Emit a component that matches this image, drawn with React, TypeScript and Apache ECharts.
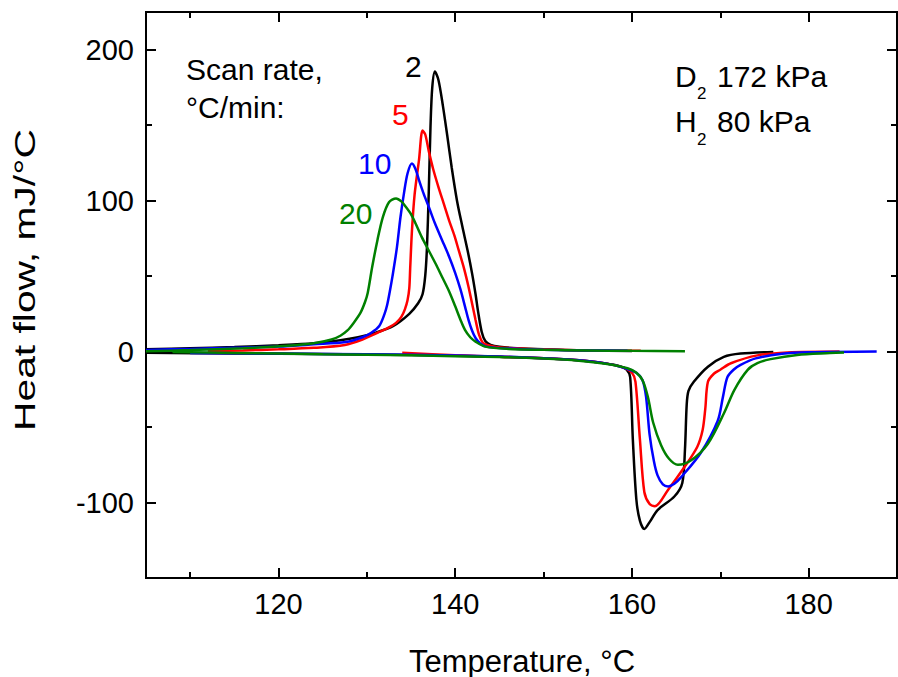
import React, { useEffect, useRef } from "react";
import * as echarts from "echarts";

// Temperature (°C) ticks
const xMajorTicks = [120, 140, 160, 180];
const xMinorTicks = [110, 130, 150, 170];
const yMajorTicks = [-100, 0, 100, 200];
const yMinorTicks = [-50, 50, 150];

const scanRates = ["2", "5", "10", "20"];
const colors = ["#000000", "#ff0000", "#0000ff", "#008000"];

// Absorption branches (positive peaks): [temperature, heat flow]
const rate2Absorption = [
  [105, 1.5], [110, 2.2], [115, 3.0], [120, 4.2], [124, 5.5], [127, 7.5], [129, 9.5], [131, 12.5],
  [133, 17], [134.8, 25], [135.8, 32], [136.3, 38], [136.6, 50], [136.8, 69], [137.0, 105],
  [137.2, 149], [137.4, 175], [137.7, 185.5], [138.1, 180], [138.6, 163], [139.1, 143],
  [139.6, 122], [140.2, 100], [140.8, 83], [141.4, 67], [141.9, 52], [142.3, 38], [142.6, 26],
  [143.0, 13], [143.4, 7], [144, 4.5], [145, 3.2], [147, 2.2], [150, 1.5], [155, 0.8], [160, 0.4],
];
const rate5Absorption = [
  [112, 0.3], [116, 0.8], [120, 1.5], [124, 2.5], [127.5, 4.4], [129.5, 8], [131.4, 13],
  [132.5, 16], [133.3, 19], [133.9, 23], [134.3, 28], [134.6, 34], [134.8, 42], [134.9, 55],
  [135.1, 80], [135.4, 104], [135.9, 127], [136.3, 146.5], [136.6, 144], [137.0, 133],
  [137.5, 121], [138.1, 109], [138.7, 98], [139.3, 87], [139.9, 77], [140.4, 67], [141, 55],
  [141.5, 43], [141.9, 32], [142.3, 21], [142.7, 11], [143.1, 6], [143.6, 4.4], [145, 2.8],
  [150, 1.5], [155, 0.8], [161, 0.5],
];
const rate10Absorption = [
  [105, 1.1], [110, 1.8], [115, 2.5], [120, 3.3], [124, 4.8], [127.6, 6.3], [129.5, 9.5],
  [130.5, 12.5], [131.4, 17], [132, 25], [132.3, 31], [132.6, 40], [132.9, 50], [133.4, 69],
  [133.8, 89], [134.2, 105], [134.6, 118], [135.1, 124.6], [135.5, 121], [135.9, 113.6],
  [136.4, 105], [137, 96], [137.7, 85], [138.5, 74], [139.3, 63], [140, 52], [140.6, 41],
  [141.1, 30], [141.5, 21], [141.9, 14], [142.3, 9], [142.8, 5.5], [143.5, 3.3], [146, 2],
  [150, 1.2], [155, 0.8], [159.5, 0.5],
];
const rate20Absorption = [
  [105, 0.2], [110, 1.0], [116, 2.2], [121, 3.8], [124, 5.5], [126, 8], [127, 10.5],
  [127.8, 14], [128.5, 19], [129.3, 26], [129.8, 33], [130.1, 39], [130.6, 56], [131.2, 74],
  [131.8, 89], [132.5, 99], [133.3, 101.5], [133.9, 99.5], [134.4, 96], [135, 91], [135.5, 85],
  [136.2, 76], [137, 67], [137.8, 58], [138.5, 49.6], [139.3, 40], [140, 30], [140.6, 21],
  [141.1, 14.4], [141.7, 9.5], [142.3, 6.6], [143.4, 3.3], [146, 1.8], [150, 1.2], [155, 0.8],
  [160, 0.5], [166, 0.3],
];

// Desorption branches (negative dips): [temperature, heat flow]
const rate2Desorption = [
  [105, -0.8], [115, -1.2], [125, -1.6], [135, -2.2], [140, -2.7], [145, -3.4], [150, -4.4],
  [154, -5.8], [157, -7.8], [158.6, -9.6], [159.4, -12], [159.8, -17], [160.1, -58],
  [160.5, -98], [160.9, -112], [161.4, -117.5], [162, -113], [162.9, -105], [164.8, -96],
  [165.7, -87], [166.0, -65], [166.2, -35], [166.4, -26], [167, -20], [168.6, -10],
  [170.4, -3.5], [172.3, -1.3], [176, -0.2],
];
const rate5Desorption = [
  [134, -0.7], [140, -2.4], [145, -3.4], [150, -4.4], [154, -5.8], [157, -7.8], [159, -10.5],
  [160, -14], [160.4, -20], [160.9, -58], [161.4, -93], [162, -101], [162.6, -102.5],
  [164.1, -91.5], [166, -76], [167.4, -63], [168.0, -52], [168.3, -38], [168.6, -20],
  [169.3, -14.5], [170, -12], [171.2, -7.7], [174.2, -2.5], [177.6, -0.6], [183.5, 0],
];
const rate10Desorption = [
  [110, -0.9], [120, -1.3], [130, -1.8], [140, -2.6], [145, -3.3], [150, -4.4], [154, -5.8],
  [157, -7.8], [159, -10.5], [160.5, -14], [161.2, -19], [161.6, -30], [162, -55], [162.5, -73],
  [162.9, -82], [163.5, -88], [164.1, -89.3], [164.8, -87.5], [165.6, -83], [167.8, -67],
  [169.7, -46], [170.3, -30], [170.8, -17], [171.5, -12], [172.3, -8.8], [174, -4.5],
  [177, -1.5], [180, -0.5], [187.7, 0],
];
const rate20Desorption = [
  [108, -0.3], [115, -0.9], [125, -1.7], [135, -2.5], [145, -3.6], [150, -4.6], [154, -6],
  [157, -8], [159.5, -11], [160.5, -14], [161.2, -19], [161.8, -30], [162.4, -47], [163.3, -62],
  [164.2, -71], [165.2, -75], [166.7, -72], [168.6, -61], [170.4, -41], [171.6, -25.3],
  [173.1, -12.1], [174.2, -7.7], [175.7, -5], [178.7, -2.2], [182.4, -1], [184, -0.6],
];

const absorption = [rate2Absorption, rate5Absorption, rate10Absorption, rate20Absorption];
const desorption = [rate2Desorption, rate5Desorption, rate10Desorption, rate20Desorption];

const FONT = "'Liberation Sans', Arial, Helvetica, sans-serif";

function xAxisDef(position: string, ticks: number[], len: number, showLabel: boolean) {
  return {
    type: "value",
    min: 105,
    max: 190,
    position,
    axisLine: { show: true, onZero: false, lineStyle: { color: "#000", width: 2 } },
    axisTick: { show: true, inside: true, length: len, customValues: ticks, lineStyle: { color: "#000", width: 2 } },
    axisLabel: {
      show: showLabel,
      customValues: ticks,
      margin: 11,
      color: "#000",
      fontSize: 29,
      fontFamily: FONT,
    },
    splitLine: { show: false },
  };
}

function yAxisDef(position: string, ticks: number[], len: number, showLabel: boolean) {
  return {
    type: "value",
    min: -150,
    max: 225,
    position,
    axisLine: { show: true, onZero: false, lineStyle: { color: "#000", width: 2 } },
    axisTick: { show: true, inside: true, length: len, customValues: ticks, lineStyle: { color: "#000", width: 2 } },
    axisLabel: {
      show: showLabel,
      customValues: ticks,
      margin: 12,
      color: "#000",
      fontSize: 29,
      fontFamily: FONT,
    },
    splitLine: { show: false },
  };
}

function txt(text: string, x: number, y: number, color: string, size = 30, align = "left", rotation = 0, scaleX = 1) {
  return {
    type: "text",
    x,
    y,
    rotation,
    scaleX,
    style: {
      text,
      fill: color,
      fontSize: size,
      fontFamily: FONT,
      textAlign: align,
      textVerticalAlign: "middle",
    },
  };
}

export default function App() {
  const ref = useRef<HTMLDivElement>(null);
  useEffect(() => {
    if (!ref.current) return;
    const chart = echarts.init(ref.current, undefined, { renderer: "svg" });
    const series: any[] = [];
    scanRates.forEach((r, i) => {
      [absorption[i], desorption[i]].forEach((data, k) => {
        series.push({
          name: r + (k === 0 ? " abs" : " des"),
          type: "line",
          data,
          showSymbol: false,
          smooth: 0.3,
          lineStyle: { color: colors[i], width: 2.5 },
          xAxisIndex: 0,
          yAxisIndex: 0,
          z: 3,
        });
      });
    });
    chart.setOption({
      animation: false,
      backgroundColor: "#fff",
      grid: { left: 146, top: 12, right: 1, bottom: 99 },
      xAxis: [
        xAxisDef("bottom", xMajorTicks, 10, true),
        xAxisDef("bottom", xMinorTicks, 6, false),
        xAxisDef("top", xMajorTicks, 10, false),
        xAxisDef("top", xMinorTicks, 6, false),
      ],
      yAxis: [
        yAxisDef("left", yMajorTicks, 10, true),
        yAxisDef("left", yMinorTicks, 6, false),
        yAxisDef("right", yMajorTicks, 10, false),
        yAxisDef("right", yMinorTicks, 6, false),
      ],
      series,
      graphic: [
        txt("Temperature, °C", 522, 661, "#000", 31, "center"),
        txt("Heat flow, mJ/°C", 25, 280, "#000", 30, "center", Math.PI / 2, 1.36),
        txt("Scan rate,", 186, 69.5, "#000"),
        txt("°C/min:", 186, 107.5, "#000"),
        txt(scanRates[0], 405, 66, colors[0]),
        txt(scanRates[1], 392, 114, colors[1]),
        txt(scanRates[2], 358, 163, colors[2]),
        txt(scanRates[3], 339, 213, colors[3]),
        txt("D", 675, 76, "#000"),
        txt("2", 697, 93, "#000", 17),
        txt("172 kPa", 717, 76, "#000"),
        txt("H", 675, 121, "#000"),
        txt("2", 697, 139, "#000", 17),
        txt("80 kPa", 717, 121, "#000"),
      ],
    });
    return () => chart.dispose();
  }, []);
  return <div ref={ref} style={{ position: "absolute", left: 0, top: 0, width: 898, height: 677 }} />;
}
